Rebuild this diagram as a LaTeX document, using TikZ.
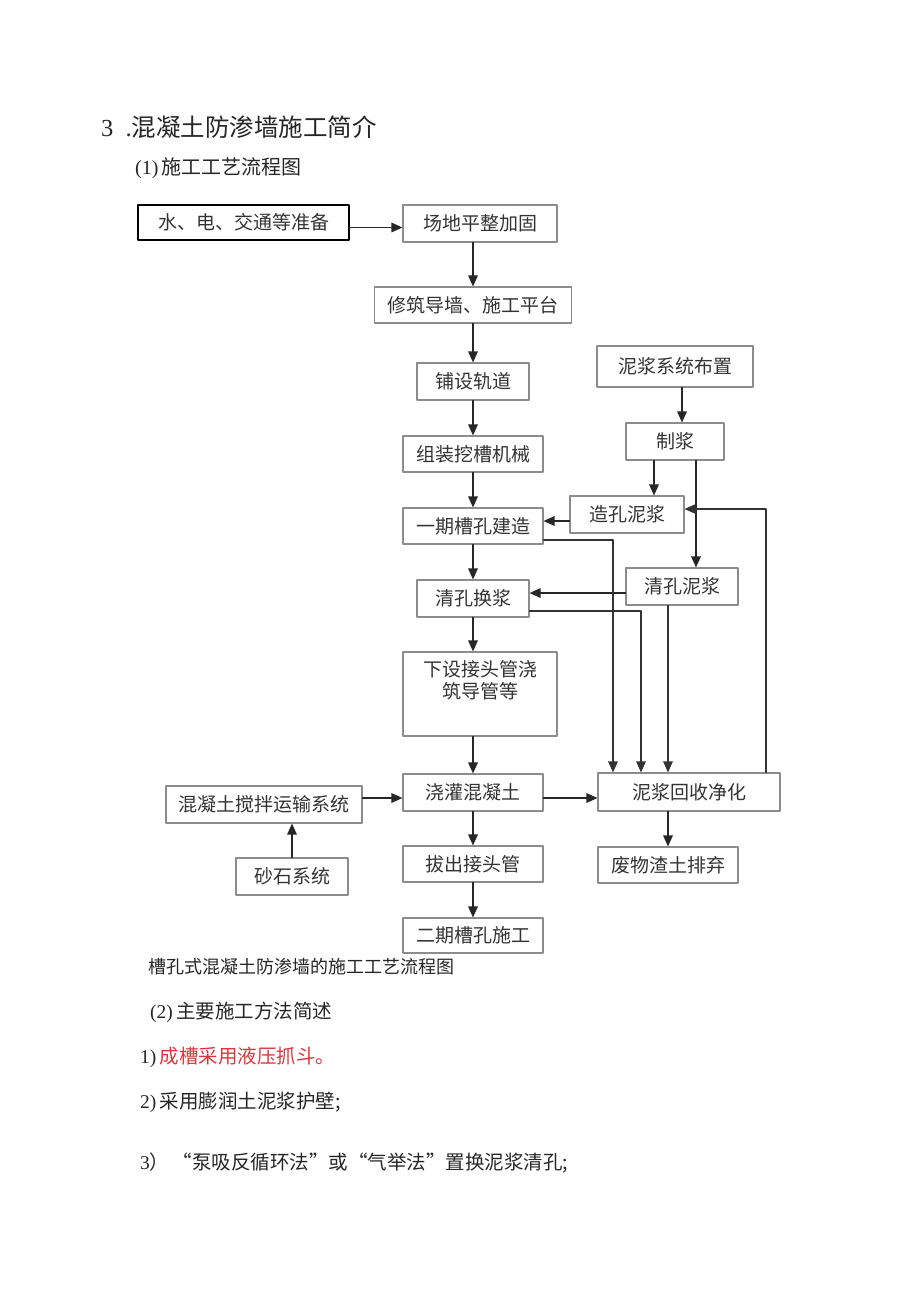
\documentclass[tikz,border=0pt]{standalone}
\usepackage{fontspec}
\setmainfont{Liberation Serif}
\newfontfamily\cjk{Noto Sans CJK SC}
\usetikzlibrary{arrows.meta}
\definecolor{boxgray}{HTML}{8C8C8C}
\definecolor{txtgray}{HTML}{333333}
\definecolor{redtxt}{HTML}{D9363E}

\begin{document}
\begin{tikzpicture}[line cap=round,line join=round,>={Triangle[length=11pt,width=9.5pt]},x=1pt,y=-1pt,
  box/.style={draw=boxgray,line width=1.1pt,inner sep=0pt,text=txtgray,
    font=\cjk\fontsize{19}{22}\selectfont},
  arr/.style={->,draw=black!85,fill=black!85,line width=1.6pt},
  lin/.style={->,draw=black!80,line width=1.3pt},
  txt/.style={anchor=west,inner sep=0pt,text=black!85}]
\useasboundingbox (0,0) rectangle (920,1301);
% headings
\node[txt,font=\fontsize{24.5}{28}\selectfont] (title) at (101,127) {3\ \ .{\cjk 混凝土防渗墙施工简介}};
\node[txt,font=\fontsize{20}{24}\selectfont] (sub1) at (135,168) {(1)\,{\cjk 施工工艺流程图}};
% boxes
\node[box,draw=black,line width=1.5pt,minimum width=211,minimum height=35] (prep) at (243.5,222.5) {水、电、交通等准备};
\node[box,minimum width=154,minimum height=37] (site) at (480,223.5) {场地平整加固};
\node[box,minimum width=197,minimum height=36] (wall) at (473,305) {修筑导墙、施工平台};
\node[box,minimum width=112,minimum height=37] (rail) at (473,381.5) {铺设轨道};
\node[box,minimum width=156,minimum height=41] (mudsys) at (675,366.5) {泥浆系统布置};
\node[box,minimum width=140,minimum height=36] (machine) at (473,454) {组装挖槽机械};
\node[box,minimum width=98,minimum height=37] (mix) at (675,441.5) {制浆};
\node[box,minimum width=114,minimum height=37] (bore) at (627,514.5) {造孔泥浆};
\node[box,minimum width=140,minimum height=36] (stage1) at (473,526) {一期槽孔建造};
\node[box,minimum width=112,minimum height=37] (cleanmud) at (682,586.5) {清孔泥浆};
\node[box,minimum width=112,minimum height=37] (swap) at (473,598.5) {清孔换浆};
\node[box,minimum width=154,minimum height=84] (pipe) at (480,694) {};
\node[box,draw=none,anchor=north,align=center] (pipetxt) at ([yshift=-8]pipe.north) {下设接头管浇\\筑导管等};
\node[box,minimum width=140,minimum height=37] (pour) at (473,792.5) {浇灌混凝土};
\node[box,minimum width=182,minimum height=38] (recover) at (689,792) {泥浆回收净化};
\node[box,minimum width=196,minimum height=37] (concrete) at (264,804.5) {混凝土搅拌运输系统};
\node[box,minimum width=112,minimum height=37] (gravel) at (292,876.5) {砂石系统};
\node[box,minimum width=140,minimum height=36] (pull) at (473,864) {拔出接头管};
\node[box,minimum width=140,minimum height=35] (stage2) at (473,935.5) {二期槽孔施工};
\node[box,minimum width=140,minimum height=36] (waste) at (668,865) {废物渣土排弃};
% main chain
\draw[arr] ([yshift=-5]prep.east) -- ([yshift=-5]prep.east -| site.west);
\draw[arr] (site.south -| wall.north) -- (wall.north);
\draw[arr] (wall.south -| rail.north) -- (rail.north);
\draw[arr] (rail.south) -- (machine.north);
\draw[arr] (machine.south) -- (stage1.north);
\draw[arr] (stage1.south) -- (swap.north);
\draw[arr] (swap.south) -- (swap.south |- pipe.north);
\draw[arr] (pour.north |- pipe.south) -- (pour.north);
\draw[arr] (pour.south) -- (pull.north);
\draw[arr] (pull.south) -- (stage2.north);
% slurry side
\draw[arr] ([xshift=7]mudsys.south) -- ([xshift=7]mix.north);
\draw[arr] ([xshift=-21]mix.south) -- ([xshift=-21]mix.south |- bore.north);
\draw[arr] ([xshift=21]mix.south) -- ([xshift=21]mix.south |- cleanmud.north);
\draw[arr] ([yshift=-6.5]bore.west) -- ([yshift=-6.5]bore.west -| stage1.east);
\draw[arr] ([yshift=-6.5]cleanmud.west) -- ([yshift=-6.5]cleanmud.west -| swap.east);
% to recovery
\draw[lin] ([yshift=-14]stage1.east) -| ([xshift=-76]recover.north);
\draw[lin] ([yshift=-12.5]swap.east) -| ([xshift=-48]recover.north);
\draw[lin] ([xshift=-14]cleanmud.south) -- ([xshift=-21]recover.north);
\draw[lin] ([xshift=77]recover.north) |- ([yshift=5.5]bore.east);
\draw[arr] ([yshift=-5.5]pour.east) -- ([yshift=-5.5]pour.east -| recover.west);
\draw[arr] ([yshift=6.5]concrete.east) -- ([yshift=6.5]concrete.east -| pour.west);
\draw[arr] (gravel.north) -- (gravel.north |- concrete.south);
\draw[arr] (waste.north |- recover.south) -- (waste.north);
% caption and notes
\node[txt,font=\cjk\fontsize{18}{22}\selectfont] (caption) at (148,967) {槽孔式混凝土防渗墙的施工工艺流程图};
\node[txt,font=\fontsize{19.5}{24}\selectfont] (sub2) at (150,1012) {(2)\,{\cjk 主要施工方法简述}};
\node[txt,font=\fontsize{19.5}{24}\selectfont] (item1) at (140,1057) {1)\,{\cjk\color{redtxt}成槽采用液压抓斗。}};
\node[txt,font=\fontsize{19.5}{24}\selectfont] (item2) at (140,1102) {2)\,{\cjk 采用膨润土泥浆护壁;}};
\node[txt,font=\fontsize{19.5}{24}\selectfont] (item3) at (140,1163) {3{\cjk ）\,“泵吸反循环法”或“气举法”置换泥浆清孔;}};
\end{tikzpicture}
\end{document}
